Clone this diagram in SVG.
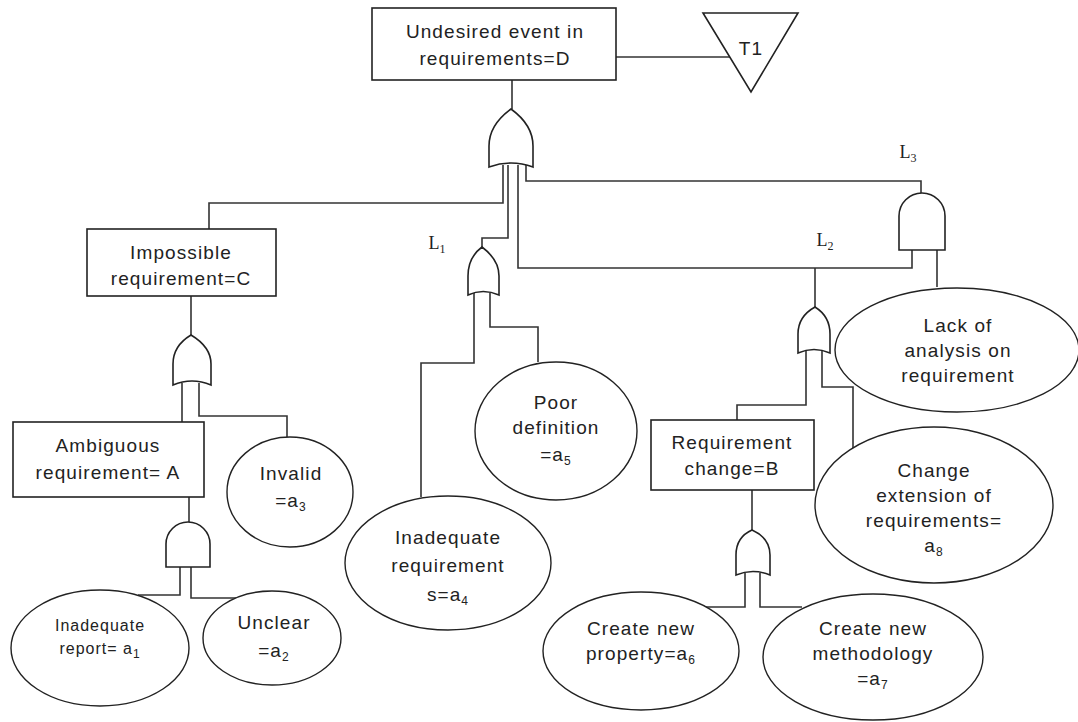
<svg xmlns="http://www.w3.org/2000/svg" width="1078" height="722" viewBox="0 0 1078 722">
<style>
.box{fill:#fff;stroke:#222;stroke-width:1.6}
.ev{fill:#fff;stroke:#222;stroke-width:1.4}
.gate{fill:#fff;stroke:#222;stroke-width:1.6}
.wire{fill:none;stroke:#333;stroke-width:1.6}
text{font-family:"Liberation Sans",Arial,sans-serif;font-size:19px;fill:#222;text-anchor:middle;letter-spacing:1.1px}
.sm{font-size:16px;letter-spacing:1px}
.lab{font-family:"Liberation Serif","Times New Roman",serif;font-size:18px;letter-spacing:0}
.sub{font-size:12px}
</style>
<rect width="1078" height="722" fill="#fff"/>
<g id="connectors">
<path class="wire" d="M616,57 H730"/>
<path class="wire" d="M512,80 V109"/>
<path class="wire" d="M503,165 V203 H209 V229"/>
<path class="wire" d="M508,165 V238 H482 V247"/>
<path class="wire" d="M518,165 V268 H912 V250"/>
<path class="wire" d="M526,165 V181 H921 V193"/>
<path class="wire" d="M815,268 V307"/>
<path class="wire" d="M937,250 V287"/>
<path class="wire" d="M474,293 V363 H421 V497"/>
<path class="wire" d="M490,293 V327 H538 V362"/>
<path class="wire" d="M806,351 V405 H737 V420"/>
<path class="wire" d="M822,351 V387 H853 V448"/>
<path class="wire" d="M191,296 V335"/>
<path class="wire" d="M182,383 V422"/>
<path class="wire" d="M199,383 V416 H287 V437"/>
<path class="wire" d="M189,497 V522"/>
<path class="wire" d="M180,567 V595 H138"/>
<path class="wire" d="M191,567 V598 H236"/>
<path class="wire" d="M752,490 V530"/>
<path class="wire" d="M745,573 V607 H705"/>
<path class="wire" d="M760,573 V607 H802"/>
</g>
<g id="top-event">
<rect class="box" x="372" y="8" width="244" height="72"/>
<text x="495" y="38">Undesired event in</text>
<text x="495" y="65">requirements=D</text>
</g>
<g id="transfer-T1">
<polygon class="gate" points="703,13 798,13 751,92"/>
<text x="751" y="55">T1</text>
</g>
<g id="or-main">
<path class="gate" d="M489,167 L489,146 C489,128 500,117 511,109 C522,117 533,128 533,146 L533,167 Q511,159 489,167 Z"/>
</g>
<g id="L1-gate">
<path class="gate" d="M468,295 L468,276 C468,262 474,253 482,247 C490,253 499,262 499,276 L499,295 Q483,288 468,295 Z"/>
<text class="lab" x="437" y="249">L<tspan class="sub" dy="4">1</tspan></text>
</g>
<g id="L2-gate">
<path class="gate" d="M798,353 L798,334 C798,320 806,312 815,307 C823,312 830,320 830,334 L830,353 Q814,346 798,353 Z"/>
<text class="lab" x="825" y="246">L<tspan class="sub" dy="4">2</tspan></text>
</g>
<g id="L3-gate">
<path class="gate" d="M899,250 L899,216 A23,23 0 0 1 945,216 L945,250 Z"/>
<text class="lab" x="908" y="158">L<tspan class="sub" dy="4">3</tspan></text>
</g>
<g id="impossible">
<rect class="box" x="87" y="229" width="189" height="67"/>
<text x="181" y="259">Impossible</text>
<text x="181" y="285">requirement=C</text>
</g>
<g id="or-C">
<path class="gate" d="M173,385 L173,364 C173,350 181,341 191,335 C201,341 211,350 211,364 L211,385 Q192,377 173,385 Z"/>
</g>
<g id="ambiguous">
<rect class="box" x="13" y="422" width="191" height="75"/>
<text x="108" y="452">Ambiguous</text>
<text x="108" y="479">requirement= A</text>
</g>
<g id="and-A">
<path class="gate" d="M166,567 L166,544 A22,22 0 0 1 210,544 L210,567 Z"/>
</g>
<g id="invalid">
<ellipse class="ev" cx="290" cy="492" rx="63" ry="55"/>
<text x="291" y="480">Invalid</text>
<text x="291" y="507">=a<tspan class="sub" dy="4">3</tspan></text>
</g>
<g id="inadequate-report">
<ellipse class="ev" cx="100" cy="648" rx="89" ry="58"/>
<text class="sm" x="100" y="631">Inadequate</text>
<text class="sm" x="100" y="654">report= a<tspan class="sub" dy="4">1</tspan></text>
</g>
<g id="unclear">
<ellipse class="ev" cx="272" cy="638" rx="69" ry="47"/>
<text x="274" y="629">Unclear</text>
<text x="274" y="657">=a<tspan class="sub" dy="4">2</tspan></text>
</g>
<g id="inadequate-requirement">
<ellipse class="ev" cx="448" cy="563" rx="103" ry="67"/>
<text x="448" y="544">Inadequate</text>
<text x="448" y="572">requirement</text>
<text x="448" y="601">s=a<tspan class="sub" dy="4">4</tspan></text>
</g>
<g id="poor-definition">
<ellipse class="ev" cx="556" cy="431" rx="81" ry="69"/>
<text x="556" y="409">Poor</text>
<text x="556" y="434">definition</text>
<text x="556" y="461">=a<tspan class="sub" dy="4">5</tspan></text>
</g>
<g id="requirement-change">
<rect class="box" x="651" y="420" width="163" height="70"/>
<text x="732" y="449">Requirement</text>
<text x="732" y="475">change=B</text>
</g>
<g id="or-B">
<path class="gate" d="M736,575 L736,555 C736,542 743,534 752,530 C761,534 770,542 770,555 L770,575 Q753,568 736,575 Z"/>
</g>
<g id="create-property">
<ellipse class="ev" cx="641" cy="651" rx="98" ry="59"/>
<text x="641" y="635">Create new</text>
<text x="641" y="660">property=a<tspan class="sub" dy="4">6</tspan></text>
</g>
<g id="create-methodology">
<ellipse class="ev" cx="873" cy="657" rx="110" ry="63"/>
<text x="873" y="635">Create new</text>
<text x="873" y="660">methodology</text>
<text x="873" y="685">=a<tspan class="sub" dy="4">7</tspan></text>
</g>
<g id="lack-analysis">
<ellipse class="ev" cx="957" cy="350" rx="122" ry="62"/>
<text x="958" y="332">Lack of</text>
<text x="958" y="357">analysis on</text>
<text x="958" y="382">requirement</text>
</g>
<g id="change-extension">
<ellipse class="ev" cx="934" cy="505" rx="119" ry="78"/>
<text x="934" y="477">Change</text>
<text x="934" y="502">extension of</text>
<text x="934" y="527">requirements=</text>
<text x="934" y="552">a<tspan class="sub" dy="4">8</tspan></text>
</g>
</svg>
